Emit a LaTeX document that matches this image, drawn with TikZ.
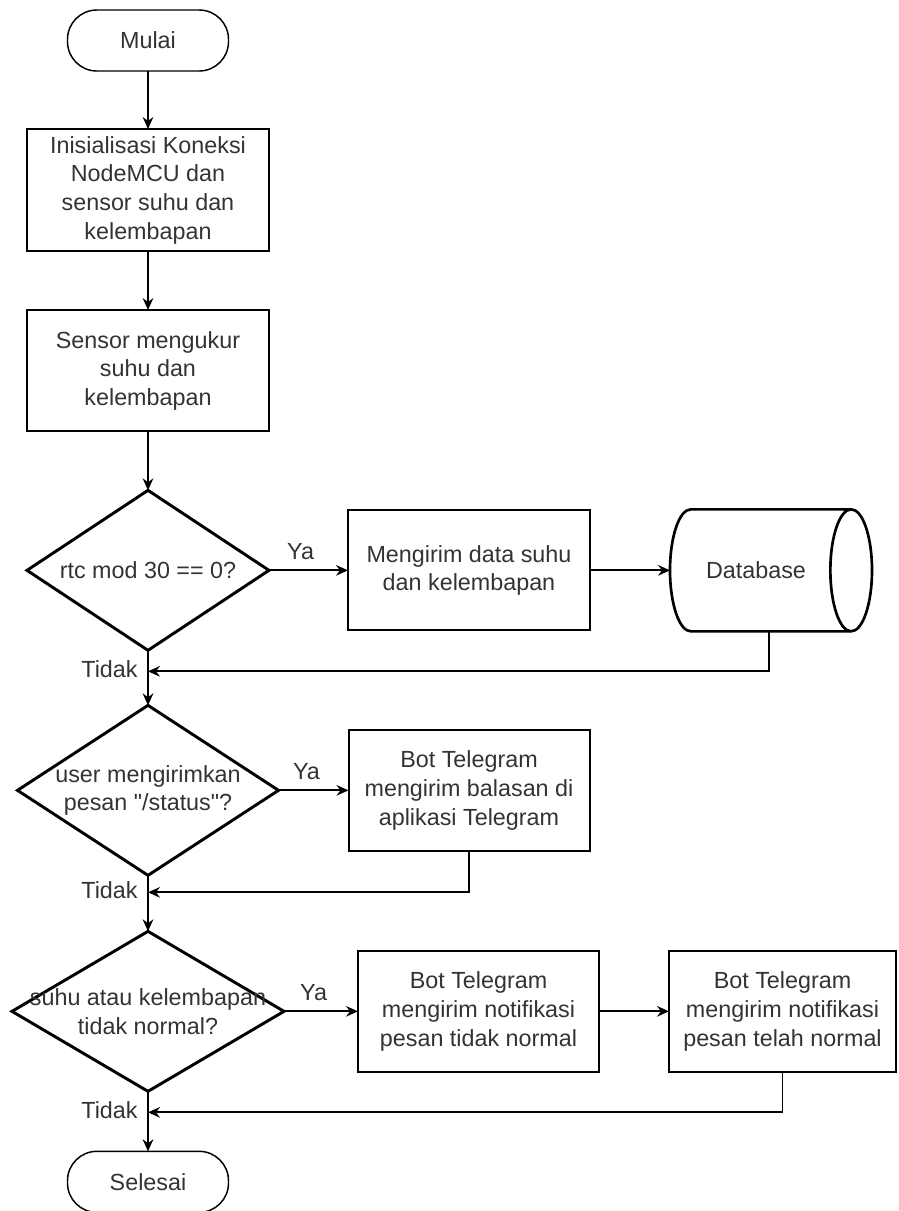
\documentclass[tikz,border=0pt]{standalone}
\usepackage{fontspec}
\setmainfont{Liberation Sans}
\usetikzlibrary{arrows.meta,positioning,shapes.geometric}

\begin{document}
\begin{tikzpicture}[
  x=0.75pt, y=-0.75pt,
  every node/.style={font=\fontsize{17.5}{21.5}\selectfont, text=black!80, outer sep=0pt},
  term/.style={draw, line width=1.1pt, rounded corners=22pt,
               minimum width=120.75pt, minimum height=45.75pt},
  box/.style={draw, line width=1.5pt, align=center, inner sep=2pt,
              minimum width=181.5pt, minimum height=91pt},
  dec/.style={draw, diamond, line width=2.2pt, inner sep=0pt,
              minimum width=181.5pt, minimum height=120pt},
  dtxt/.style={align=center, inner sep=0pt},
  db/.style={draw, cylinder, line width=2pt, aspect=1.6,
             minimum height=151.5pt, minimum width=91.5pt},
  lbl/.style={},
  arr/.style={-{Stealth[length=9pt, width=8pt, inset=3pt]}, line width=1.4pt},
]
\useasboundingbox (0,0) rectangle (899,1211);

% main column
\node[term] (mulai) at (148,40.5) {Mulai};
\node[box, below=43.5pt of mulai, minimum height=91.5pt] (init)
  {Inisialisasi Koneksi\\NodeMCU dan\\sensor suhu dan\\kelembapan};
\node[box, below=44.25pt of init] (ukur) {Sensor mengukur\\suhu dan\\kelembapan};
\node[dec, below=44.25pt of ukur, label={[dtxt]center:rtc mod 30 == 0?}] (cek) {};
\node[dec, below=41.25pt of cek, minimum width=195.75pt, minimum height=127.5pt,
      label={[dtxt]center:user mengirimkan\\pesan \textquotedbl/status\textquotedbl?}] (cmd) {};
\node[dec, below=42pt of cmd, minimum width=204pt,
      label={[dtxt]center:suhu atau kelembapan\\tidak normal?}] (cekn) {};
\node[term, below=45pt of cekn] (selesai) {Selesai};

% branches
\node[box, right=59.25pt of cek, minimum height=90pt] (kirim) {Mengirim data suhu\\dan kelembapan};
\node[db, right=60pt of kirim] (db) {Database};
\node[box, right=52.5pt of cmd, minimum width=180.75pt] (balas)
  {Bot Telegram\\mengirim balasan di\\aplikasi Telegram};
\node[box, right=55.5pt of cekn, minimum width=180.75pt] (notif)
  {Bot Telegram\\mengirim notifikasi\\pesan tidak normal};
\node[box, right=52.5pt of notif, minimum width=170.25pt] (normal)
  {Bot Telegram\\mengirim notifikasi\\pesan telah normal};

% join points
\coordinate[below=15.75pt of cek.south] (j1);
\coordinate[below=12.75pt of cmd.south] (j2);
\coordinate[below=15.75pt of cekn.south] (j3);
\node[lbl, left=4.5pt of j1, yshift=2pt] {Tidak};
\node[lbl, left=4.5pt of j2, yshift=2pt] {Tidak};
\node[lbl, left=4.5pt of j3, yshift=2pt] {Tidak};

\draw[arr] (mulai) -- (init);
\draw[arr] (init) -- (ukur);
\draw[arr] (ukur) -- (cek);
\draw[arr] (cek) -- (cmd);
\draw[arr] (cmd) -- (cekn);
\draw[arr] (cekn) -- (selesai);

\draw[arr] (cek) -- node[lbl, above=5pt, pos=0.4] {Ya} (kirim);
\draw[arr] (kirim) -- (db);
\draw[arr] (cmd) -- node[lbl, above=5pt, pos=0.4] {Ya} (balas);
\draw[arr] (cekn) -- node[lbl, above=5pt, pos=0.4] {Ya} (notif);
\draw[arr] (notif) -- (normal);

\draw[arr] ([xshift=9.75pt]db.south) |- (j1);
\draw[arr] (balas.south) |- (j2);
\draw[arr] (normal.south) |- (j3);
\end{tikzpicture}
\end{document}
